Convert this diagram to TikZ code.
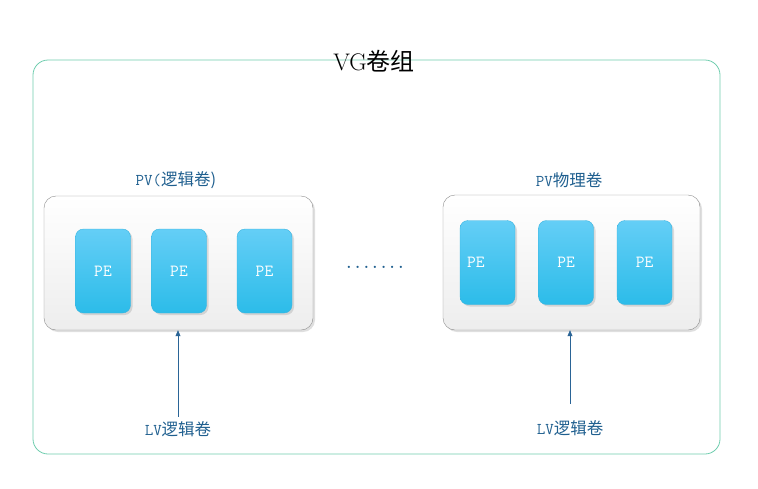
\documentclass[tikz,border=0pt]{standalone}
\usepackage{fontspec}
\newfontfamily\cjk{Noto Sans CJK SC}
\usetikzlibrary{positioning, shadows, arrows.meta}

\definecolor{vgline}{HTML}{6FCDAE}
\definecolor{pvtext}{HTML}{1F5F8F}
\definecolor{petop}{HTML}{64CEF6}
\definecolor{pebot}{HTML}{2CBCE9}
\definecolor{pedraw}{HTML}{3AB5E0}
\definecolor{lvarrow}{HTML}{2A6496}

\begin{document}
\begin{tikzpicture}[x=1pt, y=-1pt,
	vgtitle/.style={font=\fontsize{24}{26}\selectfont, text=black},
	pvbox/.style={draw=gray!90, rounded corners=12pt, top color=white, bottom color=gray!14,
		drop shadow={shadow xshift=2pt, shadow yshift=-2pt, opacity=.25}},
	pvlabel/.style={font=\ttfamily\fontsize{16.5}{18}\selectfont, text=pvtext},
	pebox/.style={draw=pedraw, rounded corners=8pt, top color=petop, bottom color=pebot,
		minimum width=55pt, minimum height=84pt, text=white, font=\ttfamily\fontsize{17}{19}\selectfont,
		drop shadow={shadow xshift=2pt, shadow yshift=-2pt, opacity=.25}},
	lvarrow/.style={draw=lvarrow, line width=0.6pt, -{Triangle[length=6pt, width=5pt]}}
	]
	\useasboundingbox (0,0) rectangle (758,488);
	\draw[vgline, line width=0.8pt, rounded corners=15pt] (33,60) rectangle (720,454);
	\node[vgtitle] (vg) at (374,61) {VG\cjk{卷组}};

	% left PV
	\node[pvbox, minimum width=269pt, minimum height=134pt] (pv1) at (178.5,263) {};
	\node[pvlabel] (pv1label) at (176,180) {PV(\cjk{逻辑卷})};
	\node[pebox] (pe11) at (103,271) {PE};
	\node[pebox] (pe12) at (179,271) {PE};
	\node[pebox] (pe13) at (264.5,271) {PE};

	\node[pvlabel, font=\ttfamily\bfseries\fontsize{16.5}{18}\selectfont] (dots) at (375,267) {.......};

	% right PV
	\node[pvbox, minimum width=257pt, minimum height=135pt] (pv2) at (571.5,262.5) {};
	\node[pvlabel] (pv2label) at (569,180) {PV\cjk{物理卷}};
	\node[pebox, inner xsep=7pt, text width=41pt, align=left] (pe21) at (487.5,262.5) {PE};
	\node[pebox] (pe22) at (566,262.5) {PE};
	\node[pebox] (pe23) at (644.5,262.5) {PE};

	% LV
	\node[pvlabel] (lv1) at (178,429) {LV\cjk{逻辑卷}};
	\node[pvlabel] (lv2) at (570,428) {LV\cjk{逻辑卷}};
	\draw[lvarrow] ([yshift=1pt]lv1.north) -- (lv1.north |- pv1.south);
	\draw[lvarrow] ([yshift=13pt]lv2.north) -- (lv2.north |- pv2.south);
\end{tikzpicture}
\end{document}
